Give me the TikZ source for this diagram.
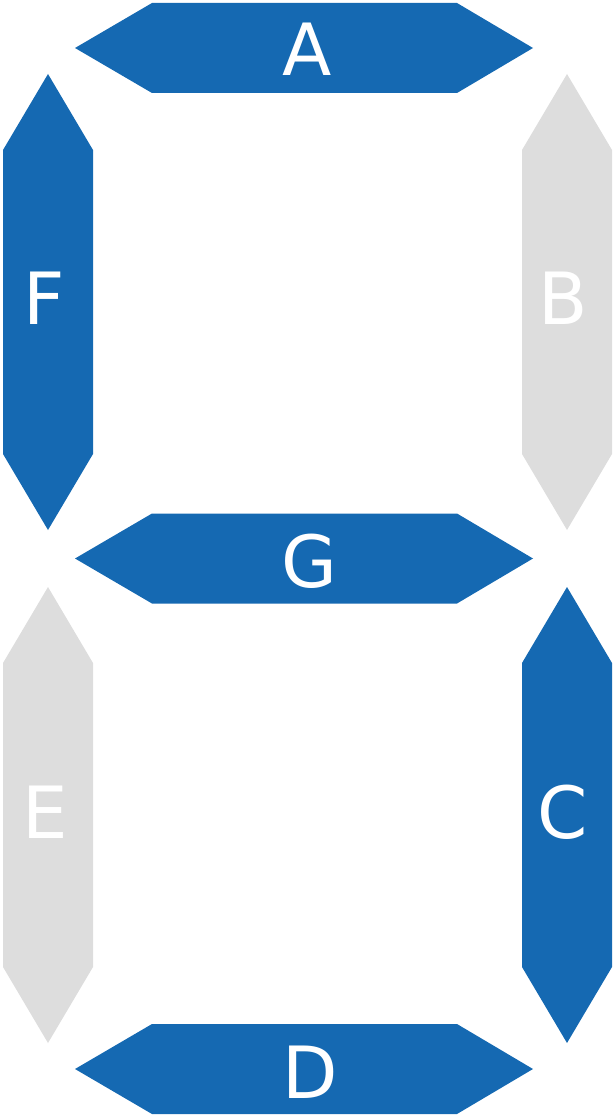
\documentclass[tikz,border=0pt]{standalone}
\usepackage{fontspec}
\setmainfont{DejaVu Sans}
\usetikzlibrary{positioning}
\definecolor{segBlue}{RGB}{21,105,178}
\definecolor{segGray}{RGB}{221,221,221}

\begin{document}
\begin{tikzpicture}[
			x=0.02cm,y=-0.02cm,
			segon/.style={fill=segBlue},
			segoff/.style={fill=segGray},
			seglabel/.style={
				text=white,
				inner sep=0pt,
				font=\fontsize{41}{41}\selectfont
			}
			]
			\useasboundingbox (0,0) rectangle (615,1118);
			% horizontal bars
			\foreach \name/\cy/\kind/\lx/\ly in {A/48/segon/307/49, G/558.5/segon/309/561, D/1069/segon/310/1072}{
				\fill[\kind] (75,\cy) -- (152,\cy-45) -- (457,\cy-45) -- (533,\cy)
					-- (457,\cy+45) -- (152,\cy+45) -- cycle;
				\node[seglabel] (seg\name) at (\lx,\ly) {\name};
			}
			% vertical bars
			\foreach \name/\cx/\cy/\kind/\lx/\ly in {F/48/302/segon/44/298, B/567/302/segoff/563/298,
				E/48/815/segoff/45/812, C/567/815/segon/563/812}{
				\fill[\kind] (\cx,\cy-228) -- (\cx+45,\cy-152) -- (\cx+45,\cy+152) -- (\cx,\cy+228)
					-- (\cx-45,\cy+152) -- (\cx-45,\cy-152) -- cycle;
				\node[seglabel] (seg\name) at (\lx,\ly) {\name};
			}
		\end{tikzpicture}
\end{document}
